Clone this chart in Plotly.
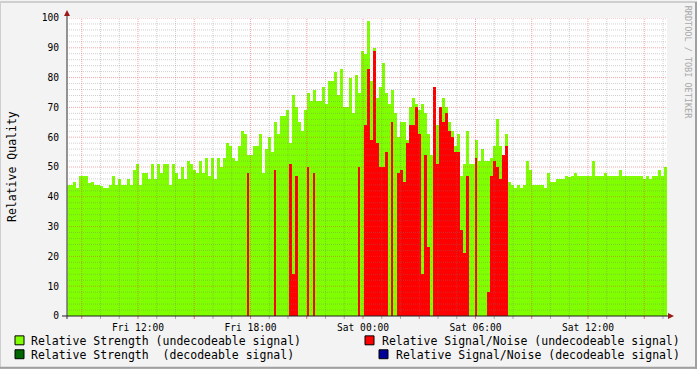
import plotly.graph_objects as go

# ---------------- data ----------------
# time axis: hours since Friday 00:00, regular RRD steps
START_H = 8.2133
STEP_H = 0.16

tick_hours = [12, 18, 24, 30, 36]
tick_labels = ["Fri 12:00", "Fri 18:00", "Sat 00:00", "Sat 06:00", "Sat 12:00"]

# Relative Strength (undecodeable signal)
strength_undec = [
    44, 44, 45, 43, 47, 47, 47, 44.5, 45, 44, 44, 43.5, 43, 43, 44, 47, 44, 46, 44, 44,
    46, 44, 49, 51, 44, 48, 48, 46, 51, 46, 51, 48, 51, 51, 44, 51, 48, 46, 50, 46,
    52, 51, 49, 48, 52, 48, 53, 47, 53, 46, 53, 50,
    53, 58, 57, 53, 52, 57, 62, 61, 54, 54, 57, 57, 61, 48, 56, 60, 55, 65, 61, 67,
    67, 69, 58, 74, 70, 65, 62, 69, 75, 72, 76, 72, 72, 77, 71, 79, 79, 82, 74, 83,
    70, 70, 80, 68, 81, 75, 89, 88,
    99, 79, 90, 73, 77, 85, 75, 71, 76, 68, 60, 65, 65, 59, 70, 73, 71, 69, 71, 68,
    61, 54, 71, 64, 68, 73, 70, 65, 62, 57, 61, 47, 51, 62, 51, 51, 59, 52, 56, 52,
    52, 53, 57, 66, 57, 54, 61, 45, 44,
    43, 44, 43, 44, 52, 49, 44, 44, 44, 44, 43, 48, 45, 45, 46, 46, 46, 47, 46.5, 47,
    48, 47, 47, 47, 47, 47, 52, 47, 47, 47, 48, 47, 47, 47, 47, 49, 47, 47, 47, 47,
    47, 47, 47, 46, 47, 46, 47, 47, 49, 47, 50,
]

# Relative Signal/Noise (undecodeable signal)
sn_undec = [
    0, 0, 0, 0, 0, 0, 0, 0, 0, 0, 0, 0, 0, 0, 0, 0, 0, 0, 0, 0,
    0, 0, 0, 0, 0, 0, 0, 0, 0, 0, 0, 0, 0, 0, 0, 0, 0, 0, 0, 0,
    0, 0, 0, 0, 0, 0, 0, 0, 0, 0, 0, 0, 0, 0, 0, 0, 0, 0, 0, 0,
    48, 0, 0, 0, 0, 0, 0, 0, 0, 49, 0, 0, 0, 0, 51, 14, 47, 0, 0, 0,
    50, 0, 48, 0, 0, 0, 0, 0, 0, 0, 0, 0, 0, 0, 0, 0, 0, 50, 0, 64,
    83, 59, 89, 58, 50, 50, 55, 0, 65, 0, 48, 49, 45, 58, 64, 64, 70, 61, 14, 54,
    23, 0, 77, 51, 70, 65, 68, 62, 60, 55, 55, 29, 21, 47, 0, 0, 53, 0, 0, 0,
    8, 47, 52, 50, 46, 54, 57, 0, 0, 0, 0, 0, 0, 0, 0, 0, 0, 0, 0, 0,
    0, 0, 0, 0, 0, 0, 0, 0, 0, 0, 0, 0, 0, 0, 0, 0, 0, 0, 0, 0,
    0, 0, 0, 0, 0, 0, 0, 0, 0, 0, 0, 0, 0, 0, 0, 0, 0, 0, 0, 0,
]

legend_left = ["Relative Strength (undecodeable signal)",
               "Relative Strength\u00a0 (decodeable signal)"]
legend_right = ["Relative Signal/Noise (undecodeable signal)",
                "Relative Signal/Noise (decodeable signal)"]

# ---------------- styling ----------------
GREEN = "#80ff00"
RED = "#ff0000"
DKGREEN = "#006600"
NAVY = "#000099"
PAPER = "#f3f3f3"
MONO = "DejaVu Sans Mono"
MINOR = "rgba(120,120,120,0.35)"
MAJOR = "rgba(235,60,60,0.45)"

n = len(strength_undec)
times = [START_H + (i + 0.5) * STEP_H for i in range(n)]
x_end = START_H + n * STEP_H

# thin red bars where a spike is isolated
red_w = []
for i, v in enumerate(sn_undec):
    left = sn_undec[i - 1] if i > 0 else 0
    right = sn_undec[i + 1] if i < n - 1 else 0
    red_w.append(STEP_H * 0.45 if (v and not left and not right) else STEP_H)

fig = go.Figure()
fig.add_trace(go.Bar(x=times, y=strength_undec, width=STEP_H,
                     marker=dict(color=GREEN, line=dict(width=0)), opacity=1,
                     showlegend=False))
fig.add_trace(go.Bar(x=times, y=[v if v else None for v in sn_undec], width=red_w,
                     marker=dict(color=RED, line=dict(width=0)), opacity=1,
                     showlegend=False))

# pixel -> paper helpers (plot area is 600x300 starting at (67,16))
def px(xp):
    return (xp - 67) / 600.0

def py(yp):
    return (316 - yp) / 300.0

shapes = []
# horizontal grid (above the data like rrdtool)
for v in range(2, 101, 2):
    shapes.append(dict(type="line", xref="paper", yref="y", x0=0, x1=1, y0=v, y1=v,
                       line=dict(color=MAJOR if v % 10 == 0 else MINOR, width=1, dash="1px,1px")))
# vertical grid + small ticks
for h in range(9, 41):
    col = MAJOR if h % 3 == 0 else MINOR
    shapes.append(dict(type="line", xref="x", yref="paper", x0=h, x1=h, y0=0, y1=1,
                       line=dict(color=col, width=1, dash="1px,1px")))
    shapes.append(dict(type="line", xref="x", yref="paper", x0=h, x1=h, y0=0, y1=py(319),
                       line=dict(color="rgba(220,80,80,0.8)" if h % 3 == 0 else "rgba(150,150,150,0.8)", width=1)))
# axes
shapes.append(dict(type="line", xref="paper", yref="paper", x0=px(67), x1=px(67), y0=py(319), y1=py(11),
                   line=dict(color="#707070", width=1.5)))
shapes.append(dict(type="line", xref="paper", yref="paper", x0=px(62), x1=px(670), y0=0, y1=0,
                   line=dict(color="#202020", width=1.2)))
# arrow heads
shapes.append(dict(type="path", xref="paper", yref="paper",
                   path=f"M {px(64)},{py(14)} L {px(70)},{py(14)} L {px(67)},{py(8)} Z",
                   fillcolor="#9a1a1a", line=dict(width=0)))
shapes.append(dict(type="path", xref="paper", yref="paper",
                   path=f"M {px(668)},{py(313)} L {px(668)},{py(319)} L {px(674)},{py(316)} Z",
                   fillcolor="#9a1a1a", line=dict(width=0)))
# legend boxes
for (x0, y0, col) in [(15, 336, GREEN), (15, 350, DKGREEN), (365, 336, RED), (379, 350, NAVY)]:
    shapes.append(dict(type="rect", xref="paper", yref="paper",
                       x0=px(x0), x1=px(x0 + 9), y0=py(y0 + 9), y1=py(y0),
                       fillcolor=col, line=dict(color="#000000", width=1)))
# image frame
shapes.append(dict(type="rect", xref="paper", yref="paper", x0=px(0), x1=px(697), y0=py(369), y1=py(0),
                   fillcolor="rgba(0,0,0,0)", line=dict(color="#cfcfcf", width=2), layer="below"))
shapes.append(dict(type="line", xref="paper", yref="paper", x0=px(0), x1=px(697), y0=py(368), y1=py(368),
                   line=dict(color="#a0a0a0", width=2)))
shapes.append(dict(type="line", xref="paper", yref="paper", x0=px(696), x1=px(696), y0=py(0), y1=py(369),
                   line=dict(color="#a0a0a0", width=2)))

annotations = []
annotations.append(dict(text="Relative Quality", textangle=-90, xref="paper", yref="paper",
                        x=px(12), y=py(166), showarrow=False, xanchor="center", yanchor="middle",
                        font=dict(family=MONO, size=11.5, color="#000")))
annotations.append(dict(text="RRDTOOL / TOBI OETIKER", textangle=90, xref="paper", yref="paper",
                        x=px(688), y=py(60), showarrow=False, xanchor="center", yanchor="middle",
                        font=dict(family=MONO, size=8.5, color="#a8a8a8")))
for txt, yc in zip(legend_left, [341, 355]):
    annotations.append(dict(text=txt, xref="paper", yref="paper", x=px(29), y=py(yc),
                            showarrow=False, xanchor="left", yanchor="middle",
                            font=dict(family=MONO, size=11.5, color="#000")))
for txt, yc in zip(legend_right, [341, 355]):
    annotations.append(dict(text=txt, xref="paper", yref="paper", x=px(682), y=py(yc),
                            showarrow=False, xanchor="right", yanchor="middle",
                            font=dict(family=MONO, size=11.5, color="#000")))

fig.update_layout(
    width=697, height=369,
    margin=dict(l=67, r=30, t=16, b=53, pad=0),
    paper_bgcolor=PAPER, plot_bgcolor="#ffffff",
    barmode="overlay", bargap=0, showlegend=False,
    shapes=shapes, annotations=annotations,
    xaxis=dict(range=[START_H, x_end], showgrid=False, zeroline=False, showline=False,
               tickmode="array", tickvals=tick_hours, ticktext=tick_labels,
               ticks="", ticklabelstandoff=4,
               tickfont=dict(family=MONO, size=9.6, color="#000"), fixedrange=True),
    yaxis=dict(range=[0, 100], showgrid=False, zeroline=False, showline=False,
               tickmode="array", tickvals=list(range(0, 101, 10)),
               ticks="", ticklabelstandoff=7,
               tickfont=dict(family=MONO, size=9.6, color="#000"), fixedrange=True),
)

fig.write_html("out.html")
